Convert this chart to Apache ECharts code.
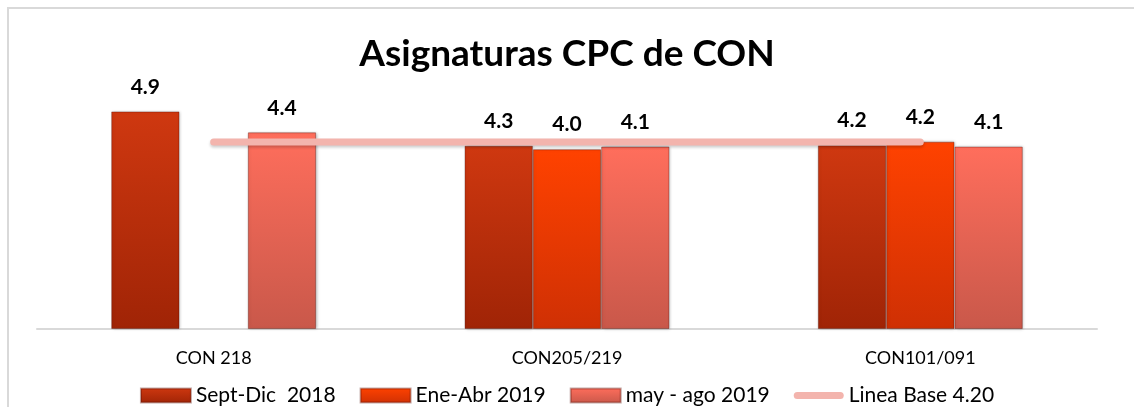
<!DOCTYPE html>
<html>
<head>
<meta charset="utf-8">
<script src="https://cdn.jsdelivr.net/npm/echarts@6/dist/echarts.min.js"></script>
<style>
  html, body { margin: 0; padding: 0; background: #fff; }
  #chart { width: 1134px; height: 407px; }
</style>
</head>
<body>
<div id="chart"></div>
<script>
// categorías
const categories = ['CON 218', 'CON205/219', 'CON101/091']

const septDic2018 = [4.89, 4.12, 4.13]
const eneAbr2019 = [null, 4.04, 4.21]
const mayAgo2019 = [4.42, 4.1, 4.1]
const lineaBase = [4.2, 4.2, 4.2]

// etiquetas tal como aparecen
const septDicLabels = ['4.9', '4.3', '4.2']
const eneAbrLabels = ['', '4.0', '4.2']
const mayAgoLabels = ['4.4', '4.1', '4.1']

const FONT = 'Lato, "Open Sans", sans-serif'

const grad = (top, bottom) =>
  new echarts.graphic.LinearGradient(0, 0, 0, 1, [
    { offset: 0, color: top },
    { offset: 1, color: bottom },
  ])

const barSeries = (name, data, labels, top, bottom) => ({
  name,
  type: 'bar',
  data,
  barGap: '0%',
  barCategoryGap: '42%',
  itemStyle: {
    color: grad(top, bottom),
    borderColor: 'rgba(80,10,0,0.35)',
    borderWidth: 1,
    shadowColor: 'rgba(0,0,0,0.25)',
    shadowBlur: 3,
    shadowOffsetX: 1,
  },
  label: {
    show: true,
    position: 'top',
    distance: 14,
    fontFamily: FONT,
    fontWeight: 'bold',
    fontSize: 21,
    color: '#000',
    formatter: (p) => labels[p.dataIndex],
  },
})

// icono tipo píldora para la línea base
const pillIcon = 'path://M3.5,0 L46.5,0 A3.5,3.5 0 0 1 46.5,7 L3.5,7 A3.5,3.5 0 0 1 3.5,0 Z'

const chart = echarts.init(document.getElementById('chart'))

chart.setOption({
  animation: false,
  title: {
    text: 'Asignaturas CPC de CON',
    left: 'center',
    top: 31,
    textStyle: {
      fontFamily: FONT,
      fontWeight: 'bold',
      fontSize: 37,
      color: '#000',
    },
  },
  graphic: [
    {
      type: 'rect',
      shape: { x: 8, y: 8, width: 1140, height: 420 },
      style: { fill: 'none', stroke: '#d9d9d9', lineWidth: 2 },
      silent: true,
    },
  ],
  legend: {
    top: 380,
    left: 'center',
    itemWidth: 50,
    itemHeight: 14,
    itemGap: 24,
    textStyle: { fontFamily: FONT, fontSize: 21, color: '#000' },
    data: [
      { name: 'Sept-Dic  2018', icon: 'rect' },
      { name: 'Ene-Abr 2019', icon: 'rect' },
      { name: 'may - ago 2019', icon: 'rect' },
      { name: 'Linea Base 4.20', icon: pillIcon, itemStyle: { color: '#f3b4ad' } },
    ],
  },
  grid: {
    left: 37,
    right: 37,
    top: 62,
    bottom: 78,
  },
  xAxis: {
    type: 'category',
    data: categories,
    axisLine: { lineStyle: { color: '#d9d9d9', width: 2 } },
    axisTick: { show: false },
    axisLabel: {
      margin: 20,
      fontFamily: FONT,
      fontSize: 18,
      color: '#000',
    },
  },
  yAxis: {
    type: 'value',
    min: 0,
    max: 6,
    show: false,
    splitLine: { show: false },
  },
  series: [
    barSeries('Sept-Dic  2018', septDic2018, septDicLabels, '#cf3810', '#a02406'),
    barSeries('Ene-Abr 2019', eneAbr2019, eneAbrLabels, '#ff4200', '#cf3004'),
    barSeries('may - ago 2019', mayAgo2019, mayAgoLabels, '#ff6e5c', '#c9584a'),
    {
      name: 'Linea Base 4.20',
      type: 'line',
      data: lineaBase,
      symbol: 'none',
      z: 5,
      lineStyle: {
        color: '#f3b4ad',
        width: 7,
        cap: 'round',
        shadowColor: 'rgba(0,0,0,0.2)',
        shadowBlur: 3,
        shadowOffsetY: 2,
      },
      itemStyle: { color: '#f3b4ad' },
    },
  ],
})
</script>
</body>
</html>
